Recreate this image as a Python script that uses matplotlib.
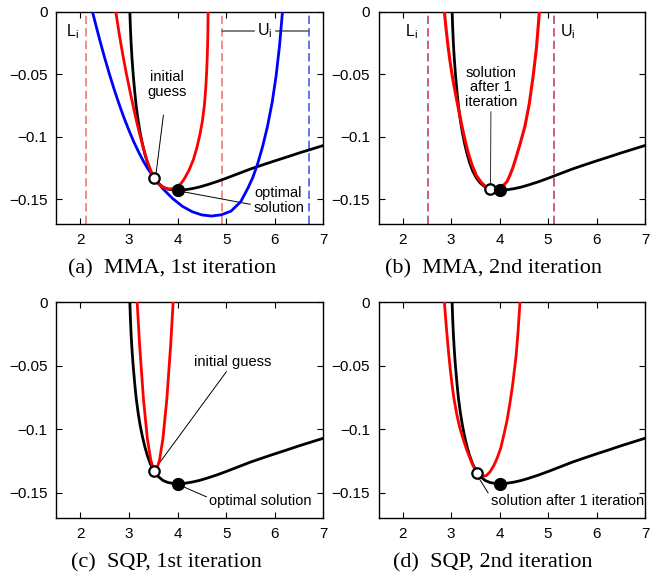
import matplotlib
matplotlib.use("Agg")
import matplotlib.pyplot as plt

plt.rcParams['font.family'] = ['Liberation Sans', 'DejaVu Sans']
plt.rcParams['mathtext.fontset'] = 'custom'
plt.rcParams['mathtext.rm'] = 'Liberation Sans'

# ---------------- data ----------------
# true objective function (black)
f_x = [3.02, 3.03, 3.045, 3.065, 3.09, 3.12, 3.15, 3.19, 3.23, 3.28, 3.33, 3.38,
       3.44, 3.52, 3.60, 3.70, 3.80, 3.90, 4.02, 4.15, 4.30, 4.45, 4.60, 4.80,
       5.00, 5.25, 5.50, 5.75, 6.00, 6.25, 6.50, 6.75, 7.00]
f_y = [0.0, -0.012, -0.025, -0.038, -0.051, -0.064, -0.0755, -0.0870, -0.0965,
       -0.1060, -0.1140, -0.1206, -0.1270, -0.1330, -0.1370, -0.1402, -0.1418,
       -0.1425, -0.1427, -0.1424, -0.1415, -0.1402, -0.1385, -0.1360, -0.1332,
       -0.1295, -0.1258, -0.1225, -0.1193, -0.1162, -0.1130, -0.1100, -0.1070]

# MMA 1st iteration approximations
mma1_red_x = [2.73, 2.80, 2.87, 2.95, 3.03, 3.11, 3.19, 3.28, 3.37, 3.45, 3.52,
              3.60, 3.70, 3.80, 3.90, 4.00, 4.08, 4.15, 4.24, 4.33, 4.40, 4.46,
              4.51, 4.55, 4.58, 4.60, 4.615, 4.625, 4.63]
mma1_red_y = [0.0, -0.0175, -0.0335, -0.050, -0.065, -0.0795, -0.093, -0.1065,
              -0.1186, -0.1270, -0.1330, -0.1375, -0.1405, -0.1417, -0.1416,
              -0.1398, -0.1370, -0.1330, -0.1265, -0.1180, -0.1085, -0.0985,
              -0.0880, -0.0760, -0.0620, -0.0480, -0.033, -0.017, 0.0]
mma1_blue_x = [2.25, 2.30, 2.40, 2.50, 2.60, 2.70, 2.80, 2.90, 3.00, 3.10, 3.20,
               3.30, 3.40, 3.52, 3.70, 3.90, 4.10, 4.30, 4.50, 4.70, 4.90, 5.10,
               5.30, 5.45, 5.55, 5.65, 5.75, 5.85, 5.95, 6.03, 6.10, 6.16]
mma1_blue_y = [0.0, -0.0076, -0.0226, -0.0367, -0.050, -0.0625, -0.0741,
               -0.0849, -0.0948, -0.104, -0.1122, -0.1197, -0.1262, -0.133,
               -0.1416, -0.1494, -0.1556, -0.1599, -0.1625, -0.1634, -0.1624,
               -0.1595, -0.1520, -0.1410, -0.1325, -0.1215, -0.1080, -0.0920,
               -0.0720, -0.0510, -0.0270, 0.0]
mma1_L_red = 2.12
mma1_U_red = 4.91
mma1_U_blue = 6.71

# MMA 2nd iteration approximation
mma2_x = [2.86, 2.89, 2.93, 2.97, 3.01, 3.05, 3.10, 3.15, 3.20, 3.25, 3.30, 3.36,
          3.43, 3.52, 3.62, 3.71, 3.80, 3.90, 4.00, 4.10, 4.15, 4.21, 4.27, 4.32,
          4.42, 4.52, 4.61, 4.69, 4.76, 4.82]
mma2_y = [0.0, -0.012, -0.026, -0.038, -0.0485, -0.0575, -0.0677, -0.0777,
          -0.0874, -0.0965, -0.1050, -0.1140, -0.1225, -0.1310, -0.1365,
          -0.1398, -0.1416, -0.1423, -0.1412, -0.1380, -0.1360, -0.1310,
          -0.1250, -0.1190, -0.1060, -0.0920, -0.0740, -0.0520, -0.0290, 0.0]
mma2_L = 2.52
mma2_U = 5.12

# SQP 1st iteration approximation
sqp1_x = [3.17, 3.22, 3.30, 3.38, 3.45, 3.50, 3.54, 3.58, 3.63, 3.70, 3.78, 3.86,
          3.91]
sqp1_y = [0.0, -0.0333, -0.0765, -0.1073, -0.1242, -0.1305, -0.132, -0.1305,
          -0.1242, -0.1073, -0.0765, -0.0333, 0.0]

# SQP 2nd iteration approximation
sqp2_x = [2.86, 2.90, 2.94, 2.98, 3.02, 3.06, 3.12, 3.18, 3.25, 3.31, 3.38, 3.45,
          3.53, 3.60, 3.66, 3.73, 3.80, 3.88, 3.95, 4.02, 4.08, 4.15, 4.21, 4.27,
          4.34, 4.38, 4.42]
sqp2_y = [0.0, -0.0195, -0.0370, -0.0525, -0.0655, -0.0765, -0.0890, -0.0990,
          -0.1080, -0.1150, -0.1220, -0.1285, -0.1335, -0.1362, -0.1370,
          -0.1362, -0.1335, -0.1285, -0.1225, -0.1150, -0.1055, -0.0935,
          -0.0800, -0.0645, -0.0420, -0.0230, 0.0]

# points
init_pt = (3.52, -0.133)
opt_pt = (4.01, -0.1427)
mma_iter1_pt = (3.80, -0.1418)
sqp_iter1_pt = (3.53, -0.1346)

captions = ["(a)  MMA, 1st iteration", "(b)  MMA, 2nd iteration",
            "(c)  SQP, 1st iteration", "(d)  SQP, 2nd iteration"]
xticks = [2, 3, 4, 5, 6, 7]
yticks = [0, -0.05, -0.1, -0.15]
yticklabels = ["0", "\u22120.05", "\u22120.1", "\u22120.15"]

# ---------------- figure ----------------
W, H = 657, 579
fig = plt.figure(figsize=(W / 100, H / 100), dpi=100)

def px_axes(l, r, t, b):
    return fig.add_axes([l / W, (H - b) / H, (r - l) / W, (b - t) / H])

axA = px_axes(56, 323.3, 11.7, 224.3)
axB = px_axes(378.5, 645, 11.7, 224.3)
axC = px_axes(56, 323.3, 302.3, 518.3)
axD = px_axes(378.5, 645, 302.3, 518.3)

LW = 2.0
RED = '#ff0000'
BLUE = '#0000ff'
TFS = 10.5

for ax in (axA, axB, axC, axD):
    ax.set_xlim(1.5, 7)
    ax.set_ylim(-0.17, 0)
    ax.set_xticks(xticks)
    ax.set_xticklabels([str(v) for v in xticks])
    ax.set_yticks(yticks)
    ax.set_yticklabels(yticklabels)
    ax.tick_params(direction='in', length=4, width=0.8, top=True, right=True,
                   labelsize=11, pad=6)
    for s in ax.spines.values():
        s.set_linewidth(1.0)
    ax.plot(f_x, f_y, color='black', lw=LW, zorder=3, solid_joinstyle='round')

def open_marker(ax, p):
    ax.plot([p[0]], [p[1]], 'o', ms=7.5, mfc='white', mec='black', mew=1.6, zorder=6)

def filled_marker(ax, p):
    ax.plot([p[0]], [p[1]], 'o', ms=8.5, mfc='black', mec='black', zorder=6)

dash = (5, 2.5)
# (a)
axA.axvline(mma1_L_red, color='#f07a7a', lw=1.2, dashes=dash, zorder=1)
axA.axvline(mma1_U_red, color='#f07a7a', lw=1.2, dashes=dash, zorder=1)
axA.axvline(mma1_U_blue, color='#4a5ae8', lw=1.2, dashes=dash, zorder=1)
axA.plot(mma1_blue_x, mma1_blue_y, color=BLUE, lw=LW, zorder=4, solid_joinstyle='round')
axA.plot(mma1_red_x, mma1_red_y, color=RED, lw=LW, zorder=5, solid_joinstyle='round')
open_marker(axA, init_pt)
filled_marker(axA, opt_pt)
axA.plot([mma1_U_red, 5.57], [-0.0152, -0.0152], color='#666666', lw=1.2, zorder=2)
axA.plot([6.02, mma1_U_blue], [-0.0152, -0.0152], color='#666666', lw=1.2, zorder=2)
axA.text(5.80, -0.0152, r'$\mathregular{U_i}$', ha='center', va='center', fontsize=11.5)
axA.text(1.83, -0.016, r'$\mathregular{L_i}$', ha='center', va='center', fontsize=11.5)
axA.annotate('initial\nguess', xy=(3.56, -0.129), xytext=(3.79, -0.058),
             ha='center', va='center', fontsize=TFS, linespacing=1.05,
             arrowprops=dict(arrowstyle='-', color='black', lw=0.7,
                             shrinkA=10, shrinkB=0))
axA.annotate('optimal\nsolution', xy=(4.05, -0.1435), xytext=(6.08, -0.151),
             ha='center', va='center', fontsize=TFS, linespacing=1.05,
             arrowprops=dict(arrowstyle='-', color='black', lw=0.7,
                             shrinkA=0, shrinkB=0,
                             relpos=(0.0, 0.35)))

# (b)
axB.axvline(mma2_L, color='#c2407c', lw=1.2, dashes=dash, zorder=1)
axB.axvline(mma2_U, color='#c2407c', lw=1.2, dashes=dash, zorder=1)
axB.plot(mma2_x, mma2_y, color=RED, lw=LW + 0.2, zorder=5, solid_joinstyle='round')
open_marker(axB, mma_iter1_pt)
filled_marker(axB, opt_pt)
axB.text(2.17, -0.016, r'$\mathregular{L_i}$', ha='center', va='center', fontsize=11.5)
axB.text(5.41, -0.016, r'$\mathregular{U_i}$', ha='center', va='center', fontsize=11.5)
axB.annotate('solution\nafter 1\niteration', xy=(3.81, -0.139), xytext=(3.82, -0.0605),
             ha='center', va='center', fontsize=TFS, linespacing=1.05,
             arrowprops=dict(arrowstyle='-', color='#333333', lw=0.7,
                             shrinkA=0, shrinkB=0, relpos=(0.5, 0.0)))

# (c)
axC.plot(sqp1_x, sqp1_y, color=RED, lw=LW, zorder=5, solid_joinstyle='round')
open_marker(axC, init_pt)
filled_marker(axC, opt_pt)
axC.annotate('initial guess', xy=(3.57, -0.1295), xytext=(5.13, -0.0468),
             ha='center', va='center', fontsize=TFS,
             arrowprops=dict(arrowstyle='-', color='black', lw=0.7,
                             shrinkA=0, shrinkB=0, relpos=(0.45, 0.0)))
axC.annotate('optimal solution', xy=(4.02, -0.1435), xytext=(5.71, -0.1563),
             ha='center', va='center', fontsize=TFS,
             arrowprops=dict(arrowstyle='-', color='black', lw=0.7,
                             shrinkA=0, shrinkB=0, relpos=(0.0, 0.7)))

# (d)
axD.plot(sqp2_x, sqp2_y, color=RED, lw=LW, zorder=5, solid_joinstyle='round')
open_marker(axD, sqp_iter1_pt)
filled_marker(axD, opt_pt)
axD.annotate('solution after 1 iteration', xy=(3.55, -0.137), xytext=(3.82, -0.1563),
             ha='left', va='center', fontsize=TFS,
             arrowprops=dict(arrowstyle='-', color='black', lw=0.7,
                             shrinkA=0, shrinkB=0, relpos=(0.0, 0.75)))

cap_pos = [(172, 273.3), (493.3, 273.3), (166.7, 567.5), (493, 567.5)]
for (cx, cy), txt in zip(cap_pos, captions):
    fig.text(cx / W, (H - cy) / H, txt, ha='center', va='baseline',
             fontsize=16, family='Liberation Serif')

fig.savefig('out.png', dpi=100)
